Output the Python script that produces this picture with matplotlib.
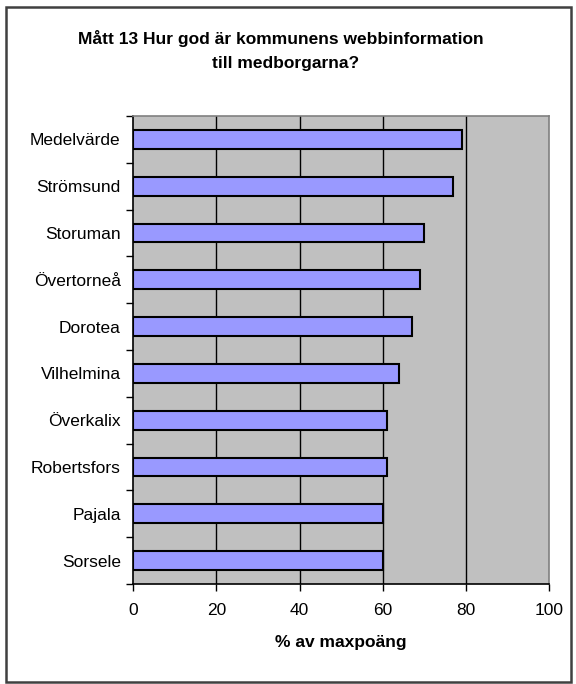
import matplotlib.pyplot as plt
from matplotlib.patches import Rectangle

plt.rcParams['font.family'] = ['Liberation Sans', 'DejaVu Sans']

kommuner = ["Medelvärde", "Strömsund", "Storuman", "Övertorneå", "Dorotea",
            "Vilhelmina", "Överkalix", "Robertsfors", "Pajala", "Sorsele"]
procent = [79, 77, 70, 69, 67, 64, 61, 61, 60, 60]
xticks = [0, 20, 40, 60, 80, 100]

fig = plt.figure(figsize=(5.76, 6.84), dpi=100)
fig.patches.append(Rectangle((0.011, 0.003), 0.980, 0.987, transform=fig.transFigure,
                             fill=False, edgecolor="#404040", linewidth=1.8))

ax = fig.add_axes([0.2313, 0.1462, 0.7218, 0.6842])
ax.set_facecolor("#C0C0C0")

n = len(kommuner)
ypos = list(range(n))[::-1]
ax.barh(ypos, procent, height=0.4, color="#9999FF", edgecolor="black", linewidth=1.5, zorder=3)

ax.set_xlim(0, 100)
ax.set_ylim(-0.5, n - 0.5)
ax.set_xticks(xticks)
ax.set_xticklabels([str(v) for v in xticks], fontsize=12.5)
ax.tick_params(axis="x", direction="out", length=5, width=1, pad=9)

# kategorilinjer mellan staplarna
ax.set_yticks([y - 0.5 for y in range(n + 1)])
ax.set_yticklabels([])
ax.set_yticks(ypos, minor=True)
ax.set_yticklabels(kommuner, minor=True, fontsize=12.5)
ax.tick_params(axis="y", which="major", direction="out", length=5, width=1)
ax.tick_params(axis="y", which="minor", length=0, pad=9)

for v in xticks[1:-1]:
    ax.axvline(v, color="black", linewidth=1, zorder=1)

ax.spines["left"].set_color("black")
ax.spines["bottom"].set_color("black")
ax.spines["top"].set_color("#808080")
ax.spines["right"].set_color("#808080")
for s in ax.spines.values():
    s.set_linewidth(1.2)

ax.set_xlabel("% av maxpoäng", fontsize=12.5, fontweight="bold", labelpad=12)

fig.text(0.488, 0.943, "Mått 13 Hur god är kommunens webbinformation",
         ha="center", va="center", fontsize=12.5, fontweight="bold")
fig.text(0.495, 0.907, "till medborgarna?",
         ha="center", va="center", fontsize=12.5, fontweight="bold")

fig.savefig("out.png", dpi=100)
